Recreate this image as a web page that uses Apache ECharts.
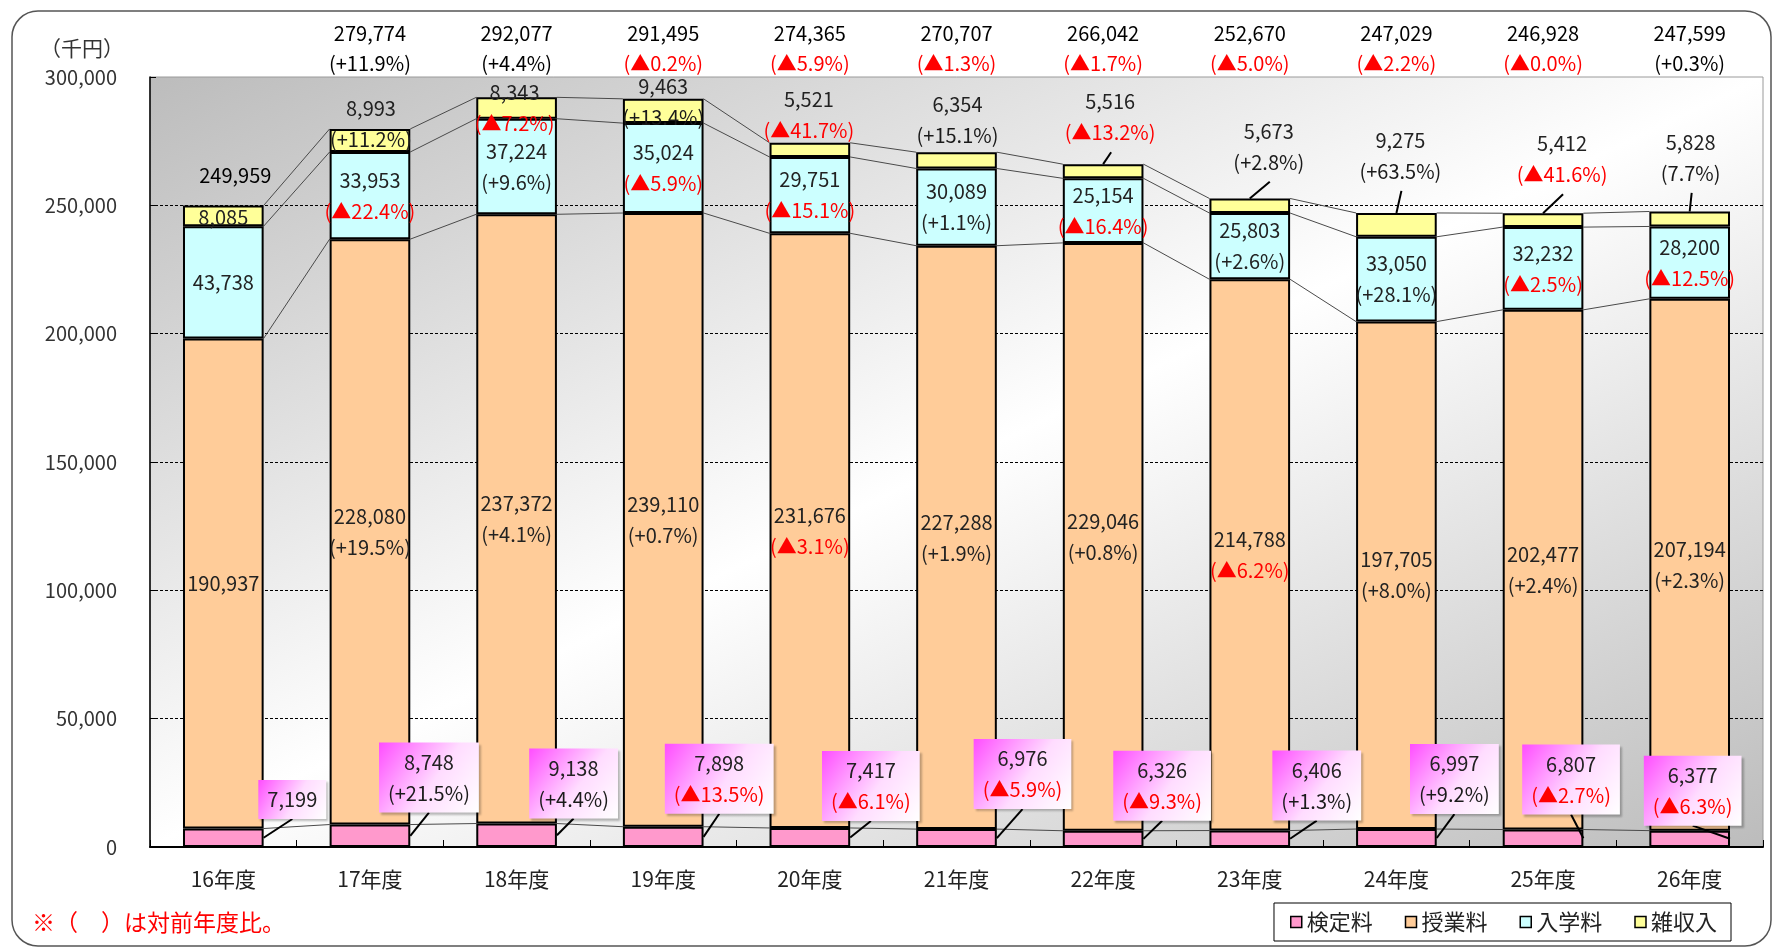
<!DOCTYPE html>
<html>
<head>
<meta charset="utf-8">
<script src="https://cdn.jsdelivr.net/npm/echarts@6/dist/echarts.min.js"></script>
<style>
  html, body { margin: 0; padding: 0; background: #fff; }
  #chart { width: 1774px; height: 949px; }
</style>
</head>
<body>
<div id="chart"></div>
<script>
// data (千円)
const categories = ['16年度', '17年度', '18年度', '19年度', '20年度', '21年度', '22年度', '23年度', '24年度', '25年度', '26年度'];
const kentei  = [7199, 8748, 9138, 7898, 7417, 6976, 6326, 6406, 6997, 6807, 6377];
const jugyo   = [190937, 228080, 237372, 239110, 231676, 227288, 229046, 214788, 197705, 202477, 207194];
const nyugaku = [43738, 33953, 37224, 35024, 29751, 30089, 25154, 25803, 33050, 32232, 28200];
const zatsu   = [8085, 8993, 8343, 9463, 5521, 6354, 5516, 5673, 9275, 5412, 5828];
const totals  = [249959, 279774, 292077, 291495, 274365, 270707, 266042, 252670, 247029, 246928, 247599];
// 対前年度比
const kenteiPct  = ['', '+21.5%', '+4.4%', '▲13.5%', '▲6.1%', '▲5.9%', '▲9.3%', '+1.3%', '+9.2%', '▲2.7%', '▲6.3%'];
const jugyoPct   = ['', '+19.5%', '+4.1%', '+0.7%', '▲3.1%', '+1.9%', '+0.8%', '▲6.2%', '+8.0%', '+2.4%', '+2.3%'];
const nyugakuPct = ['', '▲22.4%', '+9.6%', '▲5.9%', '▲15.1%', '+1.1%', '▲16.4%', '+2.6%', '+28.1%', '▲2.5%', '▲12.5%'];
const zatsuPct   = ['', '+11.2%', '▲7.2%', '+13.4%', '▲41.7%', '+15.1%', '▲13.2%', '+2.8%', '+63.5%', '▲41.6%', '7.7%'];
const totalPct   = ['', '+11.9%', '+4.4%', '▲0.2%', '▲5.9%', '▲1.3%', '▲1.7%', '▲5.0%', '▲2.2%', '▲0.0%', '+0.3%'];
const yMin = 0, yMax = 300000, yStep = 50000;

// hand placed label offsets in px, like the original sheet
const zatsuShift  = [[0, 2], [1, -17], [-2, 0], [0, -9], [-1, -35], [1, -40], [7, -54], [19, -59], [4, -69], [19, -61], [1, -61]];
const zatsuLeader = [0, 0, 0, 0, 0, 0, 1, 1, 1, 1, 1];
const kenteiShift = [[69, -29], [59, -47], [57, -40], [56, -48], [61, -42], [66, -55], [59, -45], [67, -45], [58, -50], [28, -50], [3, -40]];

const FONT = '"Noto Sans CJK JP", "Noto Sans", sans-serif';
const RED = '#ff0000';
const BAR_W = 0.55;
const LH = 31;

const fmt = v => v.toLocaleString('en-US');
const pctColor = p => (p[0] === '▲' ? RED : '#1a1a1a');

const measureCtx = document.createElement('canvas').getContext('2d');
function textW(s, font) { measureCtx.font = font; return measureCtx.measureText(s).width; }

function txt(x, y, s, color, size, weight) {
  return {
    type: 'text', x: x, y: y,
    style: { text: s, fill: color, fontSize: size || 20, fontWeight: weight || 'normal', fontFamily: FONT, align: 'center', verticalAlign: 'middle' }
  };
}

function cumulative(i) {
  const a = kentei[i], b = a + jugyo[i], c = b + nyugaku[i];
  return [a, b, c, c + zatsu[i]];
}

// Excel like series lines between neighbouring bars
function seriesLinesItem(params, api) {
  const i = params.dataIndex;
  if (i >= categories.length - 1) return { type: 'group', children: [] };
  const half = api.size([1, 0])[0] * BAR_W / 2;
  const a = cumulative(i), b = cumulative(i + 1);
  return {
    type: 'group',
    children: a.map((v, k) => {
      const p = api.coord([i, v]), q = api.coord([i + 1, b[k]]);
      return { type: 'line', shape: { x1: p[0] + half, y1: p[1], x2: q[0] - half, y2: q[1] }, style: { stroke: '#4a4a4a', lineWidth: 1 } };
    })
  };
}

function totalItem(params, api) {
  const i = params.dataIndex;
  const p = api.coord([i, totals[i]]);
  const topY = api.coord([i, yMax])[1];
  if (!totalPct[i]) return txt(p[0] + 12, p[1] - 30, fmt(totals[i]), '#000', 20);
  return {
    type: 'group',
    children: [
      txt(p[0], topY - 44, fmt(totals[i]), '#000', 20),
      txt(p[0], topY - 14, '(' + totalPct[i] + ')', totalPct[i][0] === '▲' ? RED : '#000', 20)
    ]
  };
}

function zatsuItem(params, api) {
  const i = params.dataIndex;
  const mid = api.coord([i, totals[i] - zatsu[i] / 2]);
  const top = api.coord([i, totals[i]]);
  const lx = mid[0] + zatsuShift[i][0], ly = mid[1] + zatsuShift[i][1];
  const children = [];
  if (zatsuLeader[i]) {
    children.push({ type: 'line', shape: { x1: lx + 1, y1: ly + 35, x2: top[0], y2: top[1] }, style: { stroke: '#000', lineWidth: 2 } });
  }
  if (zatsuPct[i]) {
    children.push(txt(lx, ly - LH / 2, fmt(zatsu[i]), '#222'));
    children.push(txt(lx, ly + LH / 2, '(' + zatsuPct[i] + ')', pctColor(zatsuPct[i])));
  } else {
    children.push(txt(lx, ly, fmt(zatsu[i]), '#222'));
  }
  return { type: 'group', children: children };
}

function kenteiItem(params, api) {
  const i = params.dataIndex;
  const bw = api.size([1, 0])[0] * BAR_W;
  const top = api.coord([i, kentei[i]]);
  const mid = api.coord([i, kentei[i] / 2]);
  const cx = top[0] + kenteiShift[i][0], cy = top[1] + kenteiShift[i][1];
  const lines = [fmt(kentei[i])];
  if (kenteiPct[i]) lines.push('(' + kenteiPct[i] + ')');
  const w = Math.max.apply(null, lines.map(s => textW(s, '20px ' + FONT))) + 18;
  const h = lines.length * LH + 8;
  const children = [
    { type: 'line', shape: { x1: cx, y1: cy + h / 2, x2: top[0] + bw / 2, y2: mid[1] }, style: { stroke: '#000', lineWidth: 2 } },
    {
      type: 'rect', shape: { x: cx - w / 2, y: cy - h / 2, width: w, height: h },
      style: {
        fill: new echarts.graphic.LinearGradient(0, 0, 1, 1, [
          { offset: 0, color: '#ff4dff' }, { offset: 0.55, color: '#ffdcff' }, { offset: 1, color: '#ffffff' }
        ]),
        shadowColor: 'rgba(0,0,0,0.25)', shadowBlur: 2, shadowOffsetX: 2, shadowOffsetY: 2
      }
    }
  ];
  if (lines.length > 1) {
    children.push(txt(cx, cy - LH / 2, lines[0], '#222'));
    children.push(txt(cx, cy + LH / 2, lines[1], pctColor(kenteiPct[i])));
  } else {
    children.push(txt(cx, cy, lines[0], '#222'));
  }
  return { type: 'group', children: children };
}

function insideLabel(pcts) {
  return {
    show: true, position: 'inside',
    formatter: p => '{k|' + fmt(p.value) + '}' + (pcts[p.dataIndex]
      ? '\n' + (pcts[p.dataIndex][0] === '▲' ? '{r|(' : '{k|(') + pcts[p.dataIndex] + ')}'
      : ''),
    rich: {
      k: { color: '#222', fontSize: 20, lineHeight: LH, fontFamily: FONT },
      r: { color: RED, fontSize: 20, lineHeight: LH, fontFamily: FONT }
    }
  };
}

// plot background: grey corners, white along the other diagonal
const gl = 150, gt = 77, gr = 11, gb = 102;
const gw = 1774 - gl - gr, gh = 949 - gt - gb;
const cc = 2 / (1 / (gw * gw) + 1 / (gh * gh));
const plotBg = new echarts.graphic.LinearGradient(gl, gt, gl + cc / gw, gt + cc / gh, [
  { offset: 0, color: '#bcbcbc' }, { offset: 0.5, color: '#ffffff' }, { offset: 1, color: '#bcbcbc' }
], true);

const barStyle = color => ({ color: color, borderColor: '#000', borderWidth: 2 });
const idx = totals.map((t, i) => [i, t]);

const chart = echarts.init(document.getElementById('chart'));
chart.setOption({
  animation: false,
  backgroundColor: '#fff',
  textStyle: { fontFamily: FONT },
  grid: {
    left: gl, right: gr, top: gt, bottom: gb,
    show: true, backgroundColor: plotBg, borderColor: '#9a9a9a', borderWidth: 1
  },
  legend: {
    data: ['検定料', '授業料', '入学料', '雑収入'],
    right: 43, top: 903,
    icon: 'rect', itemWidth: 11, itemHeight: 11, itemGap: 32,
    itemStyle: { borderColor: '#000', borderWidth: 1.5 },
    textStyle: { fontSize: 22, color: '#222', fontFamily: FONT },
    backgroundColor: '#fff', borderColor: '#000', borderWidth: 1,
    padding: [8, 14, 8, 16]
  },
  xAxis: {
    type: 'category',
    data: categories,
    axisLine: { lineStyle: { color: '#000', width: 2 } },
    axisTick: { show: true, inside: true, length: 7, interval: 0, lineStyle: { color: '#000', width: 1 } },
    axisLabel: { fontSize: 21, color: '#222', margin: 22, fontFamily: FONT }
  },
  yAxis: {
    type: 'value',
    min: yMin, max: yMax, interval: yStep,
    axisLine: { show: true, lineStyle: { color: '#000', width: 1.5 } },
    axisTick: { show: true, inside: true, length: 6, lineStyle: { color: '#000' } },
    axisLabel: { fontSize: 20, color: '#333', margin: 33, fontFamily: FONT, formatter: v => fmt(v) },
    splitLine: { show: true, showMinLine: false, showMaxLine: false, lineStyle: { color: '#000', width: 1, type: [3, 2] } }
  },
  graphic: [
    { type: 'rect', shape: { x: 12, y: 11, width: 1759, height: 935, r: 26 }, style: { fill: 'none', stroke: '#555', lineWidth: 1.5 }, z: -10 },
    { type: 'text', x: 82, y: 48, style: { text: '（千円）', fill: '#333', fontSize: 21, fontFamily: FONT, align: 'center', verticalAlign: 'middle' } },
    { type: 'text', x: 32, y: 922, style: { text: '※（　）は対前年度比。', fill: RED, fontSize: 23, fontFamily: FONT, align: 'left', verticalAlign: 'middle' } }
  ],
  series: [
    { name: '検定料', type: 'bar', stack: 'total', barWidth: BAR_W * 100 + '%', data: kentei, itemStyle: barStyle('#ff99cc') },
    { name: '授業料', type: 'bar', stack: 'total', data: jugyo, itemStyle: barStyle('#ffcc99'), label: insideLabel(jugyoPct) },
    { name: '入学料', type: 'bar', stack: 'total', data: nyugaku, itemStyle: barStyle('#ccffff'), label: insideLabel(nyugakuPct) },
    { name: '雑収入', type: 'bar', stack: 'total', data: zatsu, itemStyle: barStyle('#ffff99') },
    { type: 'custom', z: 1, silent: true, data: idx, renderItem: seriesLinesItem },
    { type: 'custom', z: 6, silent: true, data: idx, renderItem: zatsuItem },
    { type: 'custom', z: 7, silent: true, data: idx, renderItem: kenteiItem },
    { type: 'custom', z: 6, silent: true, data: idx, renderItem: totalItem }
  ]
});
</script>
</body>
</html>
